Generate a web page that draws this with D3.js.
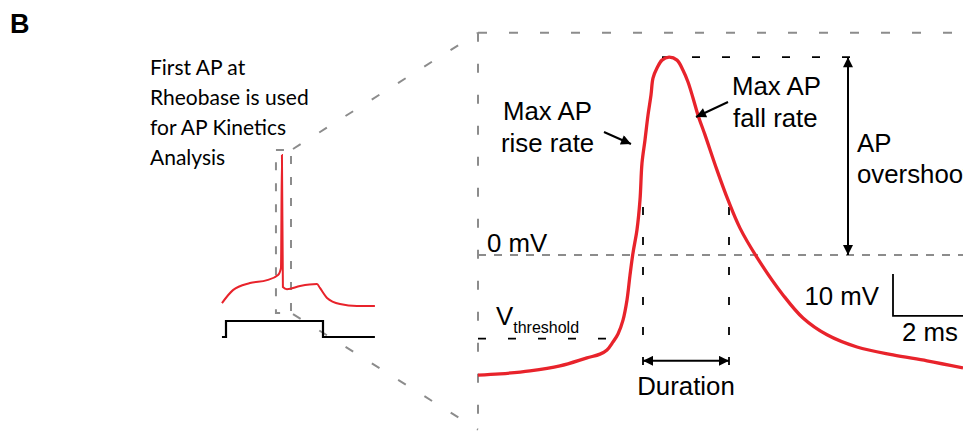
<!DOCTYPE html>
<html>
<head>
<meta charset="utf-8">
<script src="https://cdn.jsdelivr.net/npm/d3@7"></script>
<style>
  body { margin: 0; background: #fff; }
  svg { display: block; }
  .arial { font-family: "Liberation Sans", Arial, sans-serif; }
</style>
</head>
<body>
<svg id="fig" width="963" height="431"></svg>
<script>
// Zoomed first AP trace: time (ms) and membrane potential (mV)
const apTime = [0, 0.55, 1.3, 2.05, 2.725, 3.05, 3.225, 3.375, 3.5, 3.625, 3.725, 3.8, 3.875, 3.975,
  4.05, 4.1, 4.175, 4.25, 4.325, 4.375, 4.475, 4.6, 4.775, 4.975, 5.125, 5.25, 5.375, 5.5, 5.675,
  5.975, 6.25, 6.55, 7.05, 7.625, 8.125, 8.725, 9.475, 10.375, 11.225, 12.125];
const apVolt = [-28.6, -28.3, -27.6, -26.4, -24.5, -23.6, -22.6, -20.7, -18.8, -15.5, -10.7, -4.8, 0.5, 6.0,
  13.1, 21.9, 27.4, 33.3, 38.1, 42.1, 44.5, 46.4, 47.1, 46.4, 44.0, 41.2, 37.4, 33.3, 28.6,
  20.2, 13.1, 6.4, -1.7, -9.5, -15.0, -19.0, -21.9, -23.8, -25.2, -26.9];

// Whole rheobase sweep (small inset): time (ms), potential (mV)
const sweepTime = [-25, 43, 148, 254, 322, 340, 346, 352, 377, 458, 563, 581, 625, 705, 810, 921];
const sweepVolt = [-28.6, -22.0, -18.4, -16.9, -14.3, -10.7, 47.0, -20.4, -21.5, -19.9, -18.9, -20.9, -26.0, -29.1, -30.1, -30.1];

// current step command: time (ms), on/off
const stimTime = [-25, 0, 600, 921];
const stimLevel = [0, 1, 0, 0];

// annotation values
const peakV = 47.1;
const thresholdV = -19.9;
const durStart = 4.125, durEnd = 6.275;
const overshootT = 9.25;
const scaleBarT = 10.375, scaleBarV = -14.5;

const svg = d3.select("#fig");
const red = "#e8232b", gray = "#8c8c8c";

// scales
const x = d3.scaleLinear().domain([0, 12.125]).range([478, 963]);
const y = d3.scaleLinear().domain([0, 10]).range([255, 213]);
const xs = d3.scaleLinear().domain([0, 600]).range([226, 323]);
const ys = d3.scaleLinear().domain([0, 10]).range([247, 227.4]);
const yStim = d3.scaleLinear().domain([0, 1]).range([337, 321]);

// arrow heads
const defs = svg.append("defs");
defs.append("marker")
  .attr("id", "head")
  .attr("viewBox", "0 0 10 10")
  .attr("refX", 10).attr("refY", 5)
  .attr("markerWidth", 12).attr("markerHeight", 10)
  .attr("markerUnits", "userSpaceOnUse")
  .attr("orient", "auto-start-reverse")
  .append("path").attr("d", "M0,0L10,5L0,10Z").attr("fill", "#000");

// panel letter
svg.append("text").attr("class", "arial")
  .attr("x", 10).attr("y", 33)
  .attr("font-size", 27).attr("font-weight", "bold")
  .text("B");

// inset caption
const caption = ["First AP at", "Rheobase is used", "for AP Kinetics", "Analysis"];
svg.append("text")
  .attr("font-family", "Lato, 'Open Sans', sans-serif")
  .attr("font-size", 21)
  .selectAll("tspan").data(caption).join("tspan")
  .attr("x", 150).attr("y", (d, i) => 75 + i * 30)
  .text(d => d);

// zoom box & connectors
const boxL = xs(309), boxR = xs(402), boxT = ys(49.5), boxB = ys(-33.7);
svg.append("rect")
  .attr("x", boxL).attr("y", boxT)
  .attr("width", boxR - boxL).attr("height", boxB - boxT)
  .attr("fill", "none").attr("stroke", gray).attr("stroke-width", 2)
  .attr("stroke-dasharray", "8,13");

const bigTop = y(52.9), bigBottom = y(-41.6);
svg.append("g")
  .attr("stroke", gray).attr("stroke-width", 2).attr("fill", "none")
  .selectAll("line")
  .data([
    [boxR + 2, boxT - 1, x(0), bigTop],
    [boxR + 2, boxB + 1, x(0), bigBottom],
    [x(0), bigTop, 963, bigTop],
    [x(0), bigTop, x(0), 431]
  ])
  .join("line")
  .attr("x1", d => d[0]).attr("y1", d => d[1])
  .attr("x2", d => d[2]).attr("y2", d => d[3])
  .attr("stroke-dasharray", "9,22");

// 0 mV reference
svg.append("line")
  .attr("x1", x(0)).attr("x2", 963)
  .attr("y1", y(0)).attr("y2", y(0))
  .attr("stroke", gray).attr("stroke-width", 2)
  .attr("stroke-dasharray", "8,8");

// black dashed guides
const guides = [
  [x(4.6), y(peakV), x(overshootT + 0.1), y(peakV)],
  [x(0), y(thresholdV), x(3.35), y(thresholdV)],
  [x(durStart), y(11.4), x(durStart), y(-27.4)],
  [x(durEnd), y(11.4), x(durEnd), y(-27.4)]
];
svg.append("g")
  .attr("stroke", "#000").attr("stroke-width", 1.8)
  .selectAll("line").data(guides).join("line")
  .attr("x1", d => d[0]).attr("y1", d => d[1])
  .attr("x2", d => d[2]).attr("y2", d => d[3])
  .attr("stroke-dasharray", "8,22");

// inset: stimulus step
svg.append("path")
  .datum(d3.zip(stimTime, stimLevel))
  .attr("d", d3.line().x(d => xs(d[0])).y(d => yStim(d[1])).curve(d3.curveStepAfter))
  .attr("fill", "none").attr("stroke", "#000").attr("stroke-width", 2.2);

// inset: sweep
svg.append("path")
  .datum(d3.zip(sweepTime, sweepVolt))
  .attr("d", d3.line().x(d => xs(d[0])).y(d => ys(d[1])).curve(d3.curveMonotoneX))
  .attr("fill", "none").attr("stroke", red).attr("stroke-width", 2);

// main AP trace
svg.append("path")
  .datum(d3.zip(apTime, apVolt))
  .attr("d", d3.line().x(d => x(d[0])).y(d => y(d[1])).curve(d3.curveCatmullRom.alpha(0.5)))
  .attr("fill", "none").attr("stroke", red).attr("stroke-width", 3.3);

// arrows
const arrows = [
  { x1: x(overshootT), y1: y(0), x2: x(overshootT), y2: y(peakV), both: true },
  { x1: x(durStart), y1: y(-25.2), x2: x(durEnd), y2: y(-25.2), both: true },
  { x1: 604, y1: 132, x2: x(3.85) - 1, y2: 144, both: false },
  { x1: 728, y1: 102, x2: x(5.5) - 2, y2: 117, both: false }
];
svg.append("g").selectAll("line").data(arrows).join("line")
  .attr("x1", d => d.x1).attr("y1", d => d.y1)
  .attr("x2", d => d.x2).attr("y2", d => d.y2)
  .attr("stroke", "#000").attr("stroke-width", 2)
  .attr("marker-end", "url(#head)")
  .attr("marker-start", d => d.both ? "url(#head)" : null);

// scale bar
svg.append("path")
  .attr("d", d3.line()([
    [x(scaleBarT), y(scaleBarV + 10)],
    [x(scaleBarT), y(scaleBarV)],
    [x(scaleBarT + 2), y(scaleBarV)]
  ]))
  .attr("fill", "none").attr("stroke", "#000").attr("stroke-width", 1.8);

// labels
const labels = [
  { t: "Max AP", x: 503, y: 120 },
  { t: "rise rate", x: 501, y: 152 },
  { t: "Max AP", x: 732, y: 95 },
  { t: "fall rate", x: 733, y: 127 },
  { t: "AP", x: 857, y: 152 },
  { t: "overshoot", x: 857, y: 183 },
  { t: "0 mV", x: 487, y: 252 },
  { t: "Duration", x: 686, y: 395, anchor: "middle" },
  { t: "10 mV", x: 879, y: 305, anchor: "end" },
  { t: "2 ms", x: 902, y: 341 }
];
svg.append("g").attr("class", "arial").attr("font-size", 25.8).attr("fill", "#000")
  .selectAll("text").data(labels).join("text")
  .attr("x", d => d.x).attr("y", d => d.y)
  .attr("text-anchor", d => d.anchor || "start")
  .text(d => d.t);

// V threshold
const vt = svg.append("text").attr("class", "arial").attr("x", 496).attr("y", 325).attr("font-size", 25.8);
vt.append("tspan").text("V");
vt.append("tspan").attr("font-size", 16).attr("dy", 8).text("threshold");
</script>
</body>
</html>
